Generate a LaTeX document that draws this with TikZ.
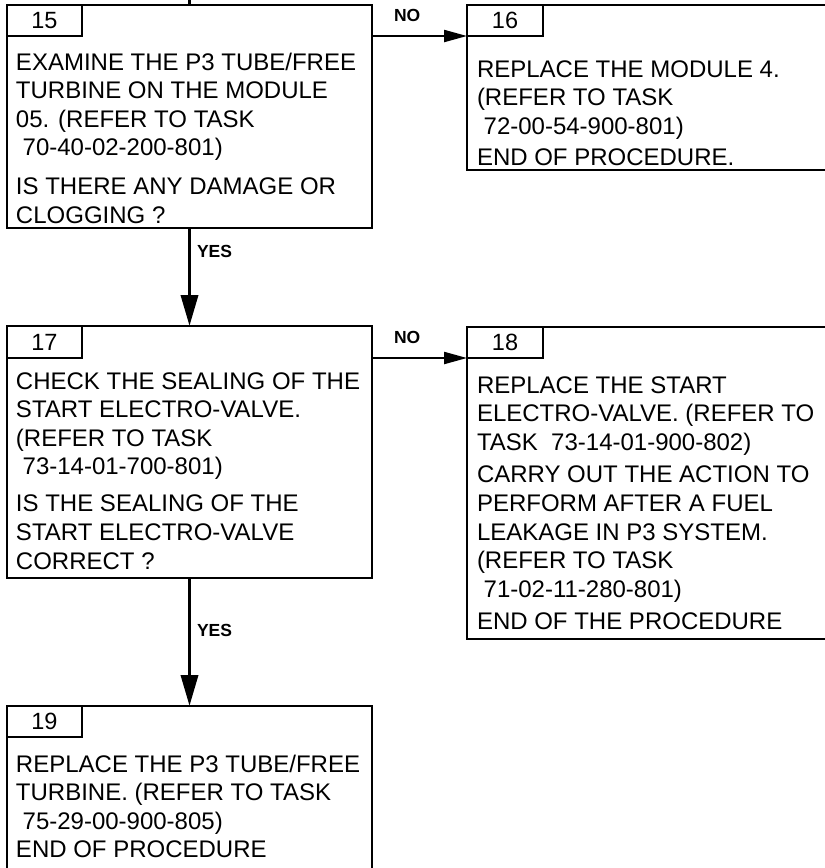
\documentclass[tikz,border=0pt]{standalone}
\usepackage{fontspec}
\setmainfont{Liberation Sans}
\usetikzlibrary{arrows.meta}
\tikzset{
 boxnode/.style={draw, line width=2.4pt, rectangle, inner sep=0pt, outer sep=0pt, anchor=north west},
 tabnode/.style={boxnode, minimum width=75pt, minimum height=31pt, font=\fontsize{23.5}{27}\selectfont},
 bodytext/.style={anchor=base west, inner sep=0pt, outer sep=0pt, font=\fontsize{24}{28.6}\selectfont},
 lbl/.style={anchor=base west, inner sep=0pt, outer sep=0pt, font=\bfseries\fontsize{17.5}{20}\selectfont},
 vline/.style={line width=3.6pt, -{Triangle[length=31pt,width=17pt]}},
 hline/.style={line width=2.2pt, -{Triangle[length=23pt,width=12pt]}},
}
\newcommand{\myl}[1]{\hbox{#1}}
\newcommand{\mytext}[1]{\vtop{\baselineskip=28.6pt\lineskiplimit=-100pt #1}}
\begin{document}
\begin{tikzpicture}[x=1pt,y=-1pt]
\useasboundingbox (0,0) rectangle (825,868);
\clip (0,0) rectangle (825,868);
% boxes
\node[boxnode, minimum width=365pt, minimum height=223pt] (b15) at (7,5) {};
\node[boxnode, minimum width=433pt, minimum height=165pt] (b16) at (467,5) {};
\node[boxnode, minimum width=365pt, minimum height=252pt] (b17) at (7,326) {};
\node[boxnode, minimum width=433pt, minimum height=312pt] (b18) at (467,327) {};
\node[boxnode, minimum width=365pt, minimum height=200pt] (b19) at (7,706) {};
% tabs
\node[tabnode] (t15) at (7,5) {15};
\node[tabnode, minimum width=76pt] (t16) at (467,5) {16};
\node[tabnode, minimum height=32pt] (t17) at (7,326) {17};
\node[tabnode, minimum width=76pt] (t18) at (467,327) {18};
\node[tabnode] (t19) at (7,706) {19};
% texts
\node[bodytext] (x15) at (16,70) {\mytext{\myl{EXAMINE THE P3 TUBE/FREE}\myl{TURBINE ON THE MODULE}\myl{05. (REFER TO TASK}\myl{\ 70-40-02-200-801)}\vskip 10pt\myl{IS THERE ANY DAMAGE OR}\myl{CLOGGING ?}}};
\node[bodytext] (x16) at (477,77) {\mytext{\myl{REPLACE THE MODULE 4.}\myl{(REFER TO TASK}\myl{\ 72-00-54-900-801)}\vskip 2.5pt\myl{END OF PROCEDURE.}}};
\node[bodytext] (x17) at (16,389) {\mytext{\myl{CHECK THE SEALING OF THE}\myl{START ELECTRO-VALVE.}\myl{(REFER TO TASK}\myl{\ 73-14-01-700-801)}\vskip 8.5pt\myl{IS THE SEALING OF THE}\myl{START ELECTRO-VALVE}\myl{CORRECT ?}}};
\node[bodytext] (x18) at (477,393) {\mytext{\myl{REPLACE THE START}\myl{ELECTRO-VALVE. (REFER TO}\myl{TASK\ \ 73-14-01-900-802)}\vskip 4pt\myl{CARRY OUT THE ACTION TO}\myl{PERFORM AFTER A FUEL}\myl{LEAKAGE IN P3 SYSTEM.}\myl{(REFER TO TASK}\myl{\ 71-02-11-280-801)}\vskip 4pt\myl{END OF THE PROCEDURE}}};
\node[bodytext] (x19) at (16,772) {\mytext{\myl{REPLACE THE P3 TUBE/FREE}\myl{TURBINE. (REFER TO TASK}\myl{\ 75-29-00-900-805)}\myl{END OF PROCEDURE}}};
% labels
\node[lbl] (no1) at (394,21) {NO};
\node[lbl] (no2) at (394,343) {NO};
\node[lbl] (yes1) at (197,257) {YES};
\node[lbl] (yes2) at (197,636) {YES};
% connectors
\coordinate (top) at (189.5,0);
\draw[line width=3.6pt] (top) -- (b15.north);
\draw[vline] (b15.south) -- (b17.north);
\draw[vline] (b17.south) -- (b19.north);
\draw[hline] (t15.south -| b15.east) -- (t16.south west);
\draw[hline] (t17.south -| b17.east) -- (t18.south west);
\end{tikzpicture}
\end{document}
